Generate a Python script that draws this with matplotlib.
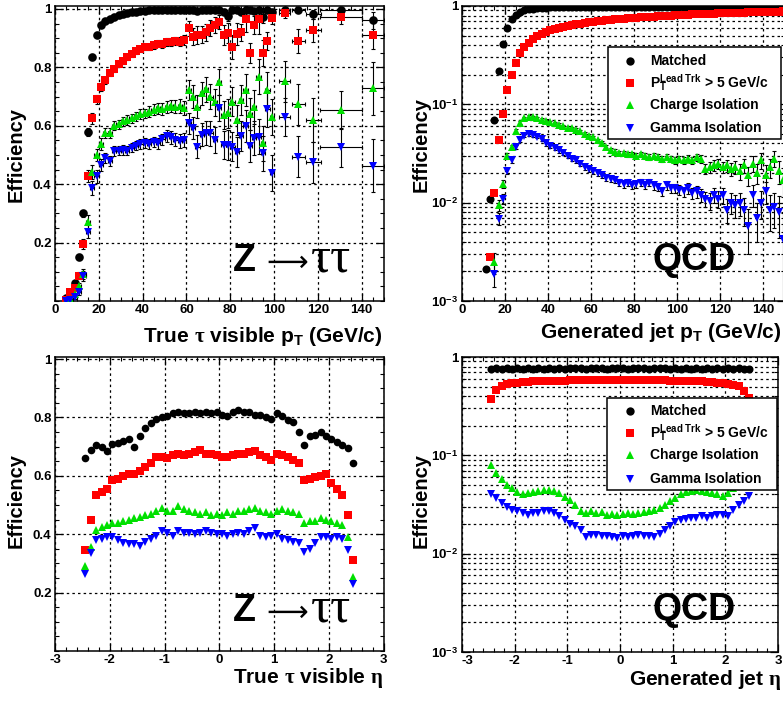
import numpy as np
import matplotlib
matplotlib.use('Agg')
import matplotlib.pyplot as plt
from matplotlib.ticker import MultipleLocator, LogLocator, NullFormatter
from matplotlib.patches import Rectangle
from matplotlib.lines import Line2D

plt.rcParams['font.family'] = ['Liberation Sans', 'DejaVu Sans']
plt.rcParams['font.weight'] = 'bold'
plt.rcParams['mathtext.fontset'] = 'custom'
plt.rcParams['mathtext.rm'] = 'Liberation Sans:bold'
plt.rcParams['mathtext.bf'] = 'Liberation Sans:bold'
plt.rcParams['mathtext.it'] = 'Liberation Serif'
plt.rcParams['mathtext.sf'] = 'Liberation Sans'

nan = np.nan

# ---------------- Z -> tautau vs pT ----------------
z_pt_x = list(range(5, 100, 2)) + [105, 111, 118, 130.5, 145]
z_pt_xerr = [1] * 48 + [2.5, 3, 3.5, 9.5, 5]
z_pt_matched = [0.01, 0.03, 0.06, 0.15, 0.30, 0.58, 0.834, 0.912, 0.945, 0.958,
                0.966, 0.974, 0.979, 0.984, 0.987, 0.99, 0.991, 0.993, 0.994, 0.995,
                0.995, 0.996, 0.996, 0.997, 0.997, 0.997, 0.998, 0.997,
                0.995, 0.998, 0.993, 0.997, 0.995, 0.998, 0.995, 0.997, 0.99, 0.975,
                0.995, 0.998, 0.99, 0.997, 0.995, 0.993, 0.998, 0.972, 0.995, 0.99,
                0.998, 0.995, 0.981, 0.998, 0.961]
z_pt_matched_err = [0.003, 0.005, 0.007, 0.01, 0.012, 0.014, 0.01, 0.008, 0.006, 0.005,
                    0.005, 0.004, 0.004, 0.003, 0.003, 0.003, 0.003, 0.003, 0.003, 0.003,
                    0.003, 0.003, 0.003, 0.003, 0.003, 0.003, 0.003, 0.003,
                    0.005, 0.003, 0.006, 0.004, 0.005, 0.003, 0.006, 0.004, 0.008, 0.015,
                    0.005, 0.003, 0.008, 0.004, 0.006, 0.007, 0.003, 0.02, 0.006, 0.01,
                    0.003, 0.006, 0.015, 0.003, 0.03]
z_pt_lead = [0.005, 0.03, 0.045, 0.086, 0.195, 0.428, 0.625, 0.69, 0.731, 0.755,
             0.78, 0.795, 0.81, 0.822, 0.835, 0.847, 0.855, 0.862, 0.868, 0.87,
             0.875, 0.88, 0.88, 0.887, 0.888, 0.89, 0.888, 0.895,
             0.933, 0.905, 0.91, 0.912, 0.92, 0.935, 0.945, 0.955, 0.91, 0.918,
             0.87, 0.915, 0.92, 0.965, 0.85, 0.945, 0.965, 0.85, 0.89, 0.97,
             0.985, 0.89, 0.927, 0.973, 0.912]
z_pt_lead_err = [0.003, 0.006, 0.008, 0.012, 0.016, 0.02, 0.018, 0.015, 0.013, 0.012,
                 0.011, 0.01, 0.01, 0.01, 0.01, 0.01, 0.01, 0.01, 0.01, 0.011,
                 0.012, 0.012, 0.013, 0.013, 0.014, 0.015, 0.016, 0.017,
                 0.025, 0.028, 0.03, 0.03, 0.03, 0.028, 0.028, 0.025, 0.035, 0.035,
                 0.04, 0.038, 0.03, 0.045, 0.035, 0.03, 0.05, 0.045, 0.03, 0.02,
                 0.015, 0.04, 0.04, 0.025, 0.05]
z_pt_charge = [0.0, 0.008, 0.025, 0.05, 0.092, 0.27, 0.443, 0.50, 0.537, 0.576,
               0.576, 0.60, 0.605, 0.615, 0.62, 0.625, 0.632, 0.64, 0.642, 0.648,
               0.655, 0.66, 0.658, 0.665, 0.668, 0.665, 0.668, 0.662,
               0.722, 0.70, 0.665, 0.711, 0.725, 0.70, 0.68, 0.75, 0.637, 0.642,
               0.682, 0.62, 0.688, 0.722, 0.64, 0.665, 0.767, 0.54, 0.724, 0.63,
               0.753, 0.673, 0.62, 0.654, 0.728]
z_pt_charge_err = [0.002, 0.006, 0.009, 0.012, 0.018, 0.024, 0.024, 0.022, 0.02, 0.018,
                   0.017, 0.016, 0.016, 0.016, 0.016, 0.016, 0.016, 0.017, 0.017, 0.018,
                   0.018, 0.019, 0.02, 0.02, 0.021, 0.022, 0.023, 0.024,
                   0.035, 0.038, 0.04, 0.04, 0.042, 0.043, 0.045, 0.045, 0.048, 0.05,
                   0.05, 0.052, 0.052, 0.055, 0.055, 0.058, 0.06, 0.06, 0.06, 0.062,
                   0.07, 0.07, 0.075, 0.065, 0.09]
z_pt_gamma = [0.0, 0.005, 0.015, 0.03, 0.085, 0.237, 0.387, 0.427, 0.465, 0.49,
              0.48, 0.513, 0.515, 0.517, 0.515, 0.525, 0.532, 0.538, 0.54, 0.538,
              0.545, 0.54, 0.553, 0.565, 0.56, 0.552, 0.548, 0.55,
              0.608, 0.591, 0.528, 0.57, 0.575, 0.574, 0.55, 0.66, 0.534, 0.534,
              0.528, 0.511, 0.565, 0.60, 0.53, 0.557, 0.562, 0.505, 0.656, 0.437,
              0.63, 0.494, 0.475, 0.526, 0.463]
z_pt_gamma_err = [0.002, 0.005, 0.008, 0.01, 0.016, 0.022, 0.024, 0.022, 0.02, 0.018,
                  0.017, 0.016, 0.016, 0.016, 0.016, 0.016, 0.016, 0.017, 0.017, 0.018,
                  0.018, 0.019, 0.02, 0.02, 0.021, 0.022, 0.023, 0.024,
                  0.035, 0.038, 0.04, 0.04, 0.042, 0.043, 0.045, 0.045, 0.048, 0.05,
                  0.05, 0.052, 0.052, 0.055, 0.055, 0.058, 0.06, 0.06, 0.06, 0.062,
                  0.065, 0.07, 0.07, 0.068, 0.09]

# ---------------- QCD vs pT ----------------
qcd_pt_x = list(range(11, 150, 2))
qcd_pt_matched = [0.0021, 0.011, 0.070, 0.22, 0.41, 0.60, 0.73, 0.81, 0.86, 0.90,
                  0.925, 0.94, 0.95, 0.957, 0.962, 0.966, 0.969, 0.971, 0.973, 0.975,
                  0.976, 0.977, 0.978, 0.978, 0.979, 0.980, 0.980, 0.981, 0.981, 0.982,
                  0.982, 0.983, 0.983, 0.983, 0.984, 0.984, 0.984, 0.985, 0.985, 0.985,
                  0.985, 0.986, 0.986, 0.986, 0.986, 0.987, 0.987, 0.987, 0.987, 0.987,
                  0.988, 0.988, 0.988, 0.988, 0.988, 0.988, 0.989, 0.989, 0.989, 0.989,
                  0.989, 0.989, 0.989, 0.99, 0.99, 0.99, 0.99, 0.99, 0.99, 0.99]
qcd_pt_lead = [nan, 0.0028, 0.0125, 0.043, 0.080, 0.139, 0.197, 0.263, 0.33, 0.38,
               0.42, 0.46, 0.49, 0.52, 0.545, 0.565, 0.585, 0.60, 0.615, 0.63,
               0.64, 0.65, 0.66, 0.67, 0.68, 0.69, 0.70, 0.705, 0.715, 0.72,
               0.73, 0.735, 0.74, 0.748, 0.755, 0.76, 0.765, 0.77, 0.775, 0.78,
               0.785, 0.79, 0.795, 0.80, 0.805, 0.81, 0.813, 0.817, 0.82, 0.824,
               0.828, 0.83, 0.834, 0.837, 0.84, 0.843, 0.846, 0.849, 0.852, 0.855,
               0.857, 0.86, 0.862, 0.865, 0.867, 0.87, 0.872, 0.875, 0.877, 0.88]
qcd_pt_charge = [nan, nan, 0.0025, 0.0094, 0.0156, 0.030, 0.037, 0.054, 0.065, 0.072,
                 0.075, 0.074, 0.072, 0.070, 0.068, 0.066, 0.064, 0.062, 0.060, 0.058,
                 0.057, 0.055, 0.053, 0.050, 0.048, 0.046, 0.043, 0.040, 0.037, 0.034,
                 0.033, 0.032, 0.032, 0.031, 0.031, 0.030, 0.031, 0.030, 0.029, 0.030,
                 0.029, 0.028, 0.029, 0.028, 0.027, 0.028, 0.027, 0.028, 0.027, 0.029,
                 0.028, 0.022, 0.023, 0.024, 0.025, 0.023, 0.024, 0.022, 0.023, 0.021,
                 0.024, 0.019, 0.025, 0.020, 0.027, 0.019, 0.023, 0.028, 0.021, 0.017]
qcd_pt_charge_err = [nan, nan, 0.0006, 0.0012, 0.0015, 0.002, 0.002, 0.0025, 0.0025, 0.0025,
                     0.0025, 0.0025, 0.0024, 0.0024, 0.0023, 0.0023, 0.0022, 0.0022, 0.0022, 0.0021,
                     0.0021, 0.002, 0.002, 0.002, 0.002, 0.002, 0.0019, 0.0019, 0.0018, 0.0018,
                     0.0018, 0.0018, 0.0018, 0.0018, 0.0018, 0.0018, 0.0019, 0.0019, 0.0019, 0.0019,
                     0.002, 0.002, 0.002, 0.002, 0.0021, 0.0021, 0.0022, 0.0022, 0.0023, 0.0024,
                     0.0025, 0.0026, 0.0028, 0.003, 0.003, 0.0032, 0.0034, 0.0035, 0.0036, 0.0038,
                     0.004, 0.0042, 0.0045, 0.0046, 0.0048, 0.005, 0.005, 0.0052, 0.0055, 0.0055]
qcd_pt_gamma = [nan, nan, 0.0019, 0.0069, 0.011, 0.021, 0.027, 0.037, 0.043, 0.048,
                0.050, 0.049, 0.047, 0.044, 0.040, 0.038, 0.036, 0.034, 0.032, 0.030,
                0.028, 0.027, 0.025, 0.023, 0.022, 0.021, 0.020, 0.019, 0.018, 0.0175,
                0.017, 0.016, 0.0155, 0.016, 0.015, 0.0155, 0.016, 0.015, 0.016, 0.015,
                0.0145, 0.013, 0.015, 0.014, 0.014, 0.0135, 0.013, 0.014, 0.0125, 0.013,
                0.012, 0.011, 0.0105, 0.012, 0.011, 0.012, 0.0085, 0.010, 0.0095, 0.010,
                0.0085, 0.0058, 0.012, 0.007, 0.010, 0.013, 0.0085, 0.009, 0.008, 0.0043]
qcd_pt_gamma_err = [nan, nan, 0.0005, 0.001, 0.0012, 0.0016, 0.0018, 0.002, 0.002, 0.002,
                    0.002, 0.002, 0.002, 0.0019, 0.0019, 0.0018, 0.0018, 0.0017, 0.0016, 0.0016,
                    0.0015, 0.0015, 0.0014, 0.0014, 0.0014, 0.0013, 0.0013, 0.0013, 0.0013, 0.0013,
                    0.0013, 0.0013, 0.0013, 0.0013, 0.0013, 0.0013, 0.0013, 0.0013, 0.0013, 0.0014,
                    0.0014, 0.0014, 0.0015, 0.0015, 0.0015, 0.0016, 0.0016, 0.0017, 0.0017, 0.0018,
                    0.0018, 0.0019, 0.002, 0.002, 0.0021, 0.0022, 0.0023, 0.0024, 0.0025, 0.0026,
                    0.0027, 0.0028, 0.003, 0.003, 0.0032, 0.0033, 0.0034, 0.0035, 0.0036, 0.0035]

# ---------------- eta bins ----------------
eta_x = np.round(np.arange(-2.45, 2.5, 0.1), 2)

z_eta_matched = [0.66, 0.688, 0.705, 0.70, 0.685, 0.71, 0.712, 0.72, 0.725, 0.70,
                 0.735, 0.765, 0.78, 0.795, 0.80, 0.805, 0.815, 0.82, 0.815, 0.815,
                 0.82, 0.815, 0.82, 0.815, 0.82, 0.81, 0.805, 0.82, 0.825, 0.82,
                 0.82, 0.81, 0.81, 0.80, 0.795, 0.815, 0.805, 0.79, 0.785, 0.75,
                 0.705, 0.735, 0.74, 0.75, 0.735, 0.725, 0.715, 0.705, 0.695, 0.645]
z_eta_lead = [0.345, 0.45, 0.535, 0.545, 0.555, 0.585, 0.59, 0.60, 0.605, 0.605,
              0.615, 0.63, 0.645, 0.665, 0.665, 0.66, 0.67, 0.675, 0.67, 0.675,
              0.68, 0.69, 0.675, 0.675, 0.67, 0.665, 0.665, 0.67, 0.675, 0.675,
              0.68, 0.685, 0.67, 0.665, 0.655, 0.675, 0.67, 0.665, 0.655, 0.645,
              0.585, 0.59, 0.595, 0.60, 0.605, 0.575, 0.555, 0.535, 0.465, 0.31]
z_eta_charge = [0.29, 0.355, 0.415, 0.425, 0.43, 0.44, 0.44, 0.445, 0.45, 0.455,
                0.46, 0.465, 0.47, 0.48, 0.49, 0.48, 0.48, 0.495, 0.485, 0.48,
                0.475, 0.47, 0.475, 0.465, 0.47, 0.465, 0.475, 0.47, 0.48, 0.48,
                0.485, 0.49, 0.48, 0.475, 0.47, 0.48, 0.485, 0.48, 0.475, 0.47,
                0.44, 0.445, 0.445, 0.455, 0.45, 0.445, 0.44, 0.43, 0.39, 0.255]
z_eta_gamma = [0.265, 0.335, 0.38, 0.385, 0.39, 0.39, 0.38, 0.37, 0.365, 0.365,
               0.36, 0.375, 0.385, 0.395, 0.41, 0.405, 0.395, 0.41, 0.405, 0.405,
               0.40, 0.405, 0.41, 0.405, 0.40, 0.40, 0.395, 0.40, 0.405, 0.40,
               0.41, 0.42, 0.395, 0.39, 0.395, 0.40, 0.385, 0.38, 0.375, 0.37,
               0.34, 0.35, 0.37, 0.39, 0.39, 0.385, 0.39, 0.385, 0.345, 0.23]

qcd_eta_matched = [0.76, 0.765, 0.762, 0.765, 0.76, 0.764, 0.762, 0.766, 0.761, 0.765,
                   0.763, 0.766, 0.762, 0.765, 0.763, 0.766, 0.764, 0.765, 0.762, 0.766,
                   0.764, 0.765, 0.763, 0.766, 0.764, 0.765, 0.763, 0.766, 0.764, 0.765,
                   0.762, 0.766, 0.764, 0.765, 0.763, 0.766, 0.762, 0.765, 0.763, 0.766,
                   0.762, 0.765, 0.763, 0.764, 0.762, 0.765, 0.761, 0.764, 0.762, 0.76]
qcd_eta_lead = [0.37, 0.46, 0.51, 0.53, 0.545, 0.55, 0.555, 0.56, 0.565, 0.565,
                0.57, 0.57, 0.572, 0.575, 0.575, 0.577, 0.578, 0.58, 0.58, 0.58,
                0.582, 0.582, 0.583, 0.583, 0.583, 0.583, 0.583, 0.582, 0.582, 0.58,
                0.58, 0.58, 0.578, 0.577, 0.575, 0.575, 0.572, 0.57, 0.57, 0.565,
                0.565, 0.56, 0.555, 0.55, 0.545, 0.535, 0.525, 0.505, 0.45, 0.38]
qcd_eta_charge = [0.080, 0.066, 0.057, 0.050, 0.046, 0.042, 0.040, 0.041, 0.042, 0.043,
                  0.044, 0.044, 0.043, 0.041, 0.038, 0.035, 0.031, 0.027, 0.026, 0.027,
                  0.026, 0.0265, 0.025, 0.0255, 0.025, 0.0255, 0.026, 0.0255, 0.026, 0.0265,
                  0.027, 0.0275, 0.029, 0.031, 0.034, 0.037, 0.040, 0.042, 0.043, 0.044,
                  0.043, 0.042, 0.041, 0.040, 0.039, 0.041, 0.046, 0.053, 0.062, 0.075]
qcd_eta_gamma = [0.0405, 0.037, 0.033, 0.030, 0.028, 0.027, 0.026, 0.025, 0.026, 0.026,
                 0.027, 0.027, 0.026, 0.024, 0.022, 0.020, 0.019, 0.0175, 0.0148, 0.0155,
                 0.0155, 0.015, 0.0152, 0.0148, 0.0145, 0.015, 0.0148, 0.0152, 0.0155, 0.015,
                 0.0152, 0.0148, 0.016, 0.0175, 0.019, 0.021, 0.022, 0.0225, 0.023, 0.023,
                 0.024, 0.023, 0.024, 0.025, 0.025, 0.024, 0.028, 0.031, 0.034, 0.039]

labels = ['Matched', r'P$_{\mathsf{T}}^{\mathsf{Lead\ Trk}}$ > 5 GeV/c', 'Charge Isolation', 'Gamma Isolation']
styles = [dict(marker='o', color='black'), dict(marker='s', color='#ff0000'),
          dict(marker='^', color='#00e000'), dict(marker='v', color='#0000ff')]

W, H = 783, 704
fig = plt.figure(figsize=(W / 100, H / 100), dpi=100)


def fx(px):
    return px / W


def fy(py):
    return 1 - py / H


ax1 = fig.add_axes([fx(55), fy(301), 328.5 / W, 295 / H])
ax2 = fig.add_axes([fx(462), fy(301), 323 / W, 295 / H])
ax3 = fig.add_axes([fx(55), fy(651), 328.5 / W, 294 / H])
ax4 = fig.add_axes([fx(462), fy(652), 316 / W, 295 / H])

GRID = dict(color='black', linestyle=(0, (2, 2.5)), linewidth=0.9)


def style(ax, log=False):
    for s in ax.spines.values():
        s.set_linewidth(1.1)
    ax.tick_params(which='both', direction='in', top=True, right=True, labelsize=9.5)
    ax.tick_params(which='major', length=6, width=0.9)
    ax.tick_params(which='minor', length=3, width=0.8)
    ax.tick_params(axis='x', which='both', pad=2)
    ax.tick_params(axis='y', which='both', pad=2.5)
    ax.grid(True, which='major', **GRID)
    if log:
        ax.set_yscale('log')
        ax.set_ylim(1e-3, 1.0)
        ax.set_yticks([1e-3, 1e-2, 1e-1, 1.0])
        ax.set_yticklabels([r'$10^{-3}$', r'$10^{-2}$', r'$10^{-1}$', '1'])
        ax.yaxis.set_minor_locator(LogLocator(base=10, subs=(2, 3, 4, 5, 6, 7, 8, 9)))
        ax.yaxis.set_minor_formatter(NullFormatter())
        ax.grid(True, which='minor', axis='y', **GRID)
    else:
        ax.set_yticks([0.2, 0.4, 0.6, 0.8, 1.0])
        ax.set_yticklabels(['0.2', '0.4', '0.6', '0.8', '1'])
        ax.yaxis.set_minor_locator(MultipleLocator(0.05))
    ax.set_axisbelow(True)


def draw(ax, x, series, errs=None, xerr=None, ms=5.8):
    for i, (y, st) in enumerate(zip(series, styles)):
        ye = None if errs is None else errs[i]
        ax.errorbar(x, y, yerr=ye, xerr=xerr, fmt='none', ecolor='black',
                    elinewidth=0.8, capsize=1.5, capthick=0.8, zorder=2)
        ax.plot(x, y, ls='none', marker=st['marker'], color=st['color'],
                ms=ms, mew=0, zorder=3)


# top-left
style(ax1)
ax1.set_xlim(0, 150)
ax1.set_ylim(0, 1.01)
ax1.set_xticks(range(0, 141, 20))
ax1.set_xticklabels([str(v) for v in range(0, 141, 20)])
ax1.xaxis.set_minor_locator(MultipleLocator(5))
draw(ax1, z_pt_x, [z_pt_matched, z_pt_lead, z_pt_charge, z_pt_gamma],
     [z_pt_matched_err, z_pt_lead_err, z_pt_charge_err, z_pt_gamma_err], xerr=z_pt_xerr, ms=6.2)

# top-right
style(ax2, log=True)
ax2.set_xlim(0, 150)
ax2.set_xticks(range(0, 141, 20))
ax2.set_xticklabels([str(v) for v in range(0, 141, 20)])
ax2.xaxis.set_minor_locator(MultipleLocator(5))
draw(ax2, qcd_pt_x, [qcd_pt_matched, qcd_pt_lead, qcd_pt_charge, qcd_pt_gamma],
     [None, None, qcd_pt_charge_err, qcd_pt_gamma_err], ms=5.8)

# bottom-left
style(ax3)
ax3.set_xlim(-3, 3)
ax3.set_ylim(0, 1.007)
ax3.set_xticks(range(-3, 4))
ax3.set_xticklabels([str(v) for v in range(-3, 4)])
ax3.xaxis.set_minor_locator(MultipleLocator(0.2))
draw(ax3, eta_x, [z_eta_matched, z_eta_lead, z_eta_charge, z_eta_gamma], ms=5.5)

# bottom-right
style(ax4, log=True)
ax4.set_xlim(-3, 3)
ax4.set_xticks(range(-3, 4))
ax4.set_xticklabels([str(v) for v in range(-3, 4)])
ax4.xaxis.set_minor_locator(MultipleLocator(0.2))
ax4.xaxis.get_major_ticks()[0].label1.set_horizontalalignment('left')
draw(ax4, eta_x, [qcd_eta_matched, qcd_eta_lead, qcd_eta_charge, qcd_eta_gamma], ms=5.8)

# axis titles
LBL = dict(fontsize=15, fontweight='bold')
EFF = dict(fontsize=14.5, fontweight='bold', rotation=90, ha='center', va='center')
fig.text(fx(16), fy(155), 'Efficiency', **EFF)
fig.text(fx(421), fy(145), 'Efficiency', **EFF)
fig.text(fx(16), fy(500), 'Efficiency', **EFF)
fig.text(fx(421), fy(500), 'Efficiency', **EFF)
fig.text(fx(383), fy(342), r'True $\tau$ visible p$_{\mathbf{T}}$ (GeV/c)', ha='right', va='baseline', **LBL)
fig.text(fx(781), fy(338), r'Generated jet p$_{\mathbf{T}}$ (GeV/c)', ha='right', va='baseline', **LBL)
fig.text(fx(383), fy(683), r'True $\tau$ visible $\eta$', ha='right', va='baseline', **LBL)
fig.text(fx(781), fy(685), r'Generated jet $\eta$', ha='right', va='baseline', **LBL)

# big annotations
for base in (271, 621):
    fig.text(fx(233), fy(base), 'Z', fontsize=27, fontweight='bold', ha='left', va='baseline')
    fig.text(fx(266), fy(base), '\u27f6', fontsize=21, fontweight='normal',
             family=['DejaVu Sans'], ha='left', va='baseline')
    fig.text(fx(311), fy(base), '\u03c4\u03c4', fontsize=36, fontweight='normal',
             family=['Liberation Serif', 'DejaVu Serif'], ha='left', va='baseline')
fig.text(fx(653), fy(270), 'QCD', fontsize=27, fontweight='bold', ha='left', va='baseline')
fig.text(fx(652), fy(620), 'QCD', fontsize=27, fontweight='bold', ha='left', va='baseline')


def legend(x0, y0, x1, y1, rows):
    fig.add_artist(Rectangle((fx(x0), fy(y1)), (x1 - x0) / W, (y1 - y0) / H,
                             transform=fig.transFigure, facecolor='white',
                             edgecolor='black', linewidth=1.1, zorder=5))
    for st, lab, ry in zip(styles, labels, rows):
        fig.add_artist(Line2D([fx(630)], [fy(ry)], marker=st['marker'], color=st['color'],
                              ms=6, mew=0, ls='none', transform=fig.transFigure, zorder=6))
        fig.text(fx(650), fy(ry), lab, fontsize=10, fontweight='bold',
                 ha='left', va='center', zorder=6)


legend(608, 47, 781, 139, [61, 83, 105, 128])
legend(607, 398, 777, 490, [411, 433, 455, 479])

fig.savefig('out.png', dpi=100)
